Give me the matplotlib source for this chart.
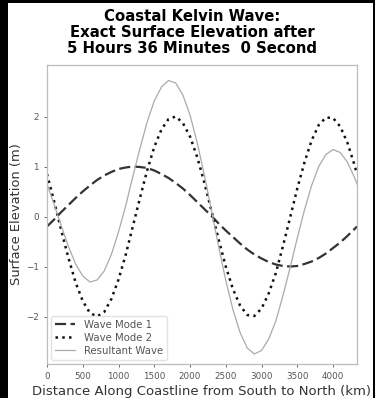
import matplotlib
matplotlib.use("Agg")
import matplotlib.pyplot as plt
from matplotlib.patches import Rectangle

# distance along the coast (km), read every 100 km
distance = [0, 100, 200, 300, 400, 500, 600, 700, 800, 900,
            1000, 1100, 1200, 1300, 1400, 1500, 1600, 1700, 1800, 1900,
            2000, 2100, 2200, 2300, 2400, 2500, 2600, 2700, 2800, 2900,
            3000, 3100, 3200, 3300, 3400, 3500, 3600, 3700, 3800, 3900,
            4000, 4100, 4200, 4300, 4335]

mode1 = [-0.20, -0.06, 0.09, 0.23, 0.37, 0.50, 0.62, 0.73, 0.82, 0.89,
         0.95, 0.98, 1.00, 0.99, 0.97, 0.92, 0.85, 0.77, 0.67, 0.56,
         0.43, 0.29, 0.15, 0.01, -0.14, -0.28, -0.41, -0.54, -0.66, -0.76,
         -0.84, -0.91, -0.96, -0.99, -1.00, -0.99, -0.95, -0.90, -0.83, -0.74,
         -0.63, -0.52, -0.39, -0.25, -0.20]

mode2 = [0.85, 0.30, -0.28, -0.83, -1.32, -1.69, -1.93, -2.00, -1.91, -1.65,
         -1.26, -0.77, -0.20, 0.37, 0.92, 1.39, 1.74, 1.95, 2.00, 1.87,
         1.60, 1.19, 0.68, 0.11, -0.46, -1.00, -1.45, -1.78, -1.97, -1.99,
         -1.84, -1.54, -1.13, -0.59, -0.02, 0.56, 1.08, 1.52, 1.83, 1.98,
         1.97, 1.80, 1.48, 1.03, 0.85]

resultant = [0.65, 0.24, -0.19, -0.60, -0.95, -1.19, -1.31, -1.27, -1.09, -0.76,
             -0.31, 0.21, 0.80, 1.36, 1.89, 2.31, 2.59, 2.72, 2.67, 2.43,
             2.03, 1.48, 0.83, 0.12, -0.60, -1.28, -1.86, -2.32, -2.63, -2.75,
             -2.68, -2.45, -2.09, -1.58, -1.02, -0.43, 0.13, 0.62, 1.00, 1.24,
             1.34, 1.28, 1.09, 0.78, 0.65]

x_ticks = [0, 500, 1000, 1500, 2000, 2500, 3000, 3500, 4000]
y_ticks = [-2, -1, 0, 1, 2]

fig = plt.figure(figsize=(3.75, 3.98), dpi=100, facecolor="black")
# white page inside the black screenshot border
fig.patches.append(Rectangle((8 / 375, 0), 365 / 375, 395 / 398,
                             transform=fig.transFigure, facecolor="white",
                             edgecolor="none", zorder=-10))

ax = fig.add_axes([47 / 375, 1 - 364 / 398, 310 / 375, 299 / 398])
ax.set_facecolor("white")
ax.set_zorder(1)

ax.plot(distance, mode1, linestyle=(0, (5, 2)), color="#333333", linewidth=1.6,
        label="Wave Mode 1")
ax.plot(distance, mode2, linestyle=(0, (1, 1.7)), color="#111111", linewidth=1.8,
        label="Wave Mode 2")
ax.plot(distance, resultant, linestyle="-", color="#aaaaaa", linewidth=0.9,
        label="Resultant Wave")

ax.set_xlim(0, 4335)
ax.set_ylim(-2.95, 3.03)
ax.set_xticks(x_ticks)
ax.set_yticks(y_ticks)
ax.tick_params(labelsize=6.3, colors="#555555", length=2.5, width=0.6)
for s in ax.spines.values():
    s.set_color("#bbbbbb")
    s.set_linewidth(0.9)

ax.set_xlabel("Distance Along Coastline from South to North (km)",
              fontsize=9.5, color="#333333", labelpad=3)
ax.set_ylabel("Surface Elevation (m)", fontsize=9.4, color="#333333", labelpad=2)

fig.suptitle("Coastal Kelvin Wave:\nExact Surface Elevation after\n"
             "5 Hours 36 Minutes  0 Second",
             fontsize=10.7, fontweight="bold", x=0.512, y=0.978, linespacing=1.08)

leg = ax.legend(loc="lower left", fontsize=7.3, frameon=True, handlelength=2.0,
                borderaxespad=0.4, labelspacing=0.3, borderpad=0.4)
leg.get_frame().set_edgecolor("#dddddd")
for t in leg.get_texts():
    t.set_color("#555555")

fig.savefig("out.png", dpi=100, facecolor=fig.get_facecolor())
